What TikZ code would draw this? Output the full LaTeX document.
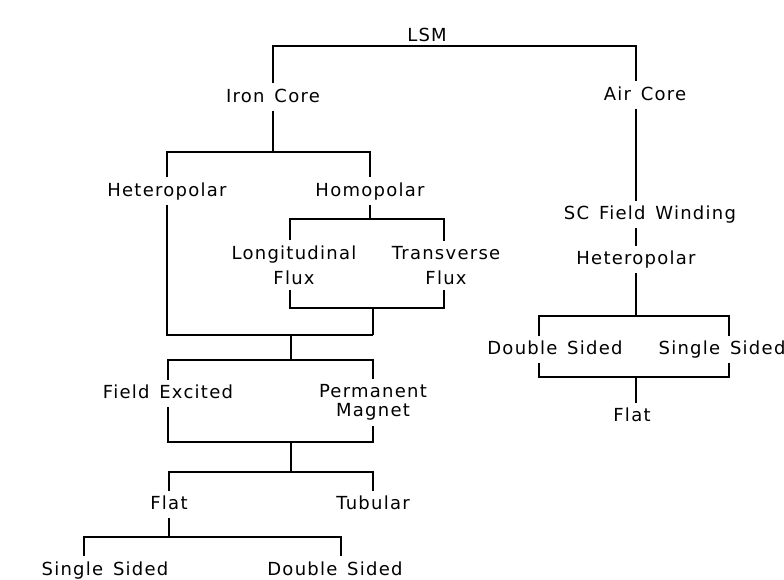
\documentclass[tikz,border=0pt]{standalone}
\usepackage{fontspec}
\newfontfamily\lsmfont{DejaVu Sans}[LetterSpace=7,WordSpace=1.4]
\newcommand{\lettering}{\lsmfont\fontsize{18}{21}\selectfont}
\begin{document}
\begin{tikzpicture}[x=1pt, y=-1pt, line width=1.1pt,
    every node/.style={font=\lettering, inner sep=5pt},
    lbl/.style={text height=13pt, text depth=3pt},
    twoline/.style={align=center}]
    \useasboundingbox (0,0) rectangle (784,579);

    % Top: LSM
    \node (lsm) at (427, 35) {LSM};
    \node[lbl] (iron) at (273, 97) {Iron Core};
    \node[lbl] (air) at (645, 95) {Air Core};
    \coordinate (r0) at (636, 46);
    \draw (iron.north) |- (r0) -- (r0 |- air.north);

    % Branch 1: Iron Core
    \node[lbl] (hetl) at (167, 191) {Heteropolar};
    \node[lbl] (homo) at (370, 191) {Homopolar};
    \coordinate (a1) at (167, 152); \coordinate (a2) at (370, 152);
    \draw (iron.south) -- (iron |- a1);
    \draw (hetl.north) -- (a1) -- (a2) -- (homo.north);

    \node[twoline] (longi) at (294, 265.4) {Longitudinal\\[4pt]Flux};
    \node[twoline] (trans) at (446, 265.4) {Transverse\\[4pt]Flux};
    \coordinate (b1) at (290, 219); \coordinate (b2) at (444, 219);
    \coordinate (b3) at (290, 308); \coordinate (b4) at (444, 308);
    \draw (homo.south) -- (homo |- b1);
    \draw (b1 |- longi.north) -- (b1) -- (b2) -- (b2 |- trans.north);
    \draw (b3 |- longi.south) -- (b3) -- (b4) -- (b4 |- trans.south);

    % both polarities join again
    \coordinate (c1) at (167, 335); \coordinate (c2) at (373, 335);
    \coordinate (c3) at (291, 335);
    \draw (c2 |- b3) -- (c2);
    \draw (hetl.south) -- (c1) -- (c2);

    \node[lbl] (field) at (168, 393.5) {Field Excited};
    \node[twoline] (perm) at (373, 402.5) {Permanent\\[-2pt]Magnet};
    \coordinate (d1) at (168, 360); \coordinate (d2) at (373, 360);
    \coordinate (d3) at (168, 442); \coordinate (d4) at (373, 442);
    \coordinate (d5) at (291, 442);
    \draw (c3) -- (c3 |- d1);
    \draw (field.north) -- (d1) -- (d2) -- (perm.north);
    \draw (field.south) -- (d3) -- (d4) -- (perm.south);

    \node[lbl] (flatl) at (169, 504.5) {Flat};
    \node[lbl] (tub) at (373, 504.5) {Tubular};
    \coordinate (e1) at (169, 472); \coordinate (e2) at (373, 472);
    \draw (d5) -- (d5 |- e1);
    \draw (flatl.north) -- (e1) -- (e2) -- (tub.north);

    \node[lbl] (ssl) at (105, 570) {Single Sided};
    \node[lbl] (dsl) at (335, 570) {Double Sided};
    \coordinate (f1) at (84, 537); \coordinate (f2) at (341, 537);
    \draw (flatl.south) -- (flatl |- f1);
    \draw (f1 |- ssl.north) -- (f1) -- (f2) -- (f2 |- dsl.north);

    % Branch 2: Air Core
    \node[lbl] (scfw) at (650, 214.5) {SC Field Winding};
    \node[lbl] (hetr) at (636, 259.5) {Heteropolar};
    \draw (r0 |- air.south) -- (r0 |- scfw.north);
    \draw (r0 |- scfw.south) -- (hetr.north);

    \node[lbl] (dsr) at (555, 349.5) {Double Sided};
    \node[lbl] (ssr) at (722, 349.5) {Single Sided};
    \coordinate (g1) at (539, 316); \coordinate (g2) at (729, 316);
    \coordinate (g3) at (539, 377); \coordinate (g4) at (729, 377);
    \draw (hetr.south) -- (hetr |- g1);
    \draw (g1 |- dsr.north) -- (g1) -- (g2) -- (g2 |- ssr.north);
    \draw (g3 |- dsr.south) -- (g3) -- (g4) -- (g4 |- ssr.south);

    \node[lbl] (flatr) at (632, 416.5) {Flat};
    \draw (hetr |- g3) -- (hetr |- flatr.north);
\end{tikzpicture}
\end{document}
